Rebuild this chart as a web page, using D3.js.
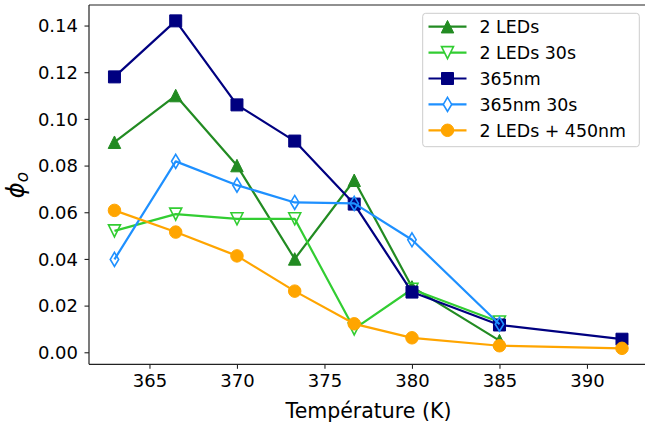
<!DOCTYPE html>
<html>
<head>
<meta charset="utf-8">
<script src="https://cdn.jsdelivr.net/npm/d3@7"></script>
<style>
  html, body { margin: 0; padding: 0; background: #fff; }
  svg { display: block; font-family: "DejaVu Sans", sans-serif; }
</style>
</head>
<body>
<svg id="chart" width="645" height="425"></svg>
<script>
// ---- data ----
const temps = [363, 366.5, 370, 373.3, 376.7, 380, 385, 392];
const leds2 = [0.090, 0.110, 0.080, 0.040, 0.0737, 0.028, 0.005];
const leds2_30s = [0.052, 0.0592, 0.0572, 0.0572, 0.010, 0.027, 0.013];
const nm365 = [0.118, 0.142, 0.106, 0.0905, 0.0635, 0.0258, 0.0117, 0.0056];
const nm365_30s = [0.0398, 0.0818, 0.0716, 0.0642, 0.0638, 0.0482, 0.012];
const leds450 = [0.0608, 0.0515, 0.0413, 0.0262, 0.0122, 0.0062, 0.0028, 0.0017];
const xTicks = [365, 370, 375, 380, 385, 390];
const yTicks = [0.00, 0.02, 0.04, 0.06, 0.08, 0.10, 0.12, 0.14];
const seriesNames = ["2 LEDs", "2 LEDs 30s", "365nm", "365nm 30s", "2 LEDs + 450nm"];
const seriesValues = [leds2, leds2_30s, nm365, nm365_30s, leds450];
const seriesColors = ["#228B22", "#32CD32", "#000080", "#1E90FF", "#FFA500"];
const seriesMarkers = ["triUp", "triDown", "square", "diamond", "circle"];
const seriesFilled = [true, false, true, false, true];

// ---- layout ----
const svg = d3.select("#chart");
const L = 89, T = 5, B = 364.3, R = 649.1;
const x = d3.scaleLinear().domain([361.545, 393.55]).range([L, R]);
const y = d3.scaleLinear().domain([-0.00515, 0.1488]).range([B, T]);

const plot = svg.append("g");

// markers
function markerPath(type, s) {
  const h = s / 2;
  switch (type) {
    case "triUp": return `M0,${-h}L${h},${h}L${-h},${h}Z`;
    case "triDown": return `M0,${h}L${h},${-h}L${-h},${-h}Z`;
    case "square": return `M${-h},${-h}H${h}V${h}H${-h}Z`;
    case "diamond": return `M0,${-h}L${h*0.6},0L0,${h}L${-h*0.6},0Z`;
    case "circle": return `M${h},0A${h},${h} 0 1,1 ${-h},0A${h},${h} 0 1,1 ${h},0Z`;
  }
}
const mSize = { triUp: 12.5, triDown: 12, square: 12, diamond: 14, circle: 12.5 };

seriesValues.forEach((vals, i) => {
  const pts = vals.map((v, j) => [temps[j], v]);
  const g = plot.append("g");
  g.append("path")
    .attr("d", d3.line().x(d => x(d[0])).y(d => y(d[1]))(pts))
    .attr("fill", "none")
    .attr("stroke", seriesColors[i])
    .attr("stroke-width", 2.2)
    .attr("stroke-linejoin", "round");
  g.selectAll("path.m").data(pts).enter().append("path")
    .attr("class", "m")
    .attr("transform", d => `translate(${x(d[0])},${y(d[1])})`)
    .attr("d", markerPath(seriesMarkers[i], mSize[seriesMarkers[i]]))
    .attr("fill", seriesFilled[i] ? seriesColors[i] : "none")
    .attr("stroke", seriesColors[i])
    .attr("stroke-width", seriesFilled[i] ? 1 : 1.6);
});

// axes
const xAxis = d3.axisBottom(x).tickValues(xTicks).tickSize(4.5).tickPadding(6).tickFormat(d3.format("d"));
const yAxis = d3.axisLeft(y).tickValues(yTicks).tickSize(4.5).tickPadding(6).tickFormat(d3.format(".2f"));
const gx = svg.append("g").attr("transform", `translate(0,${B})`).call(xAxis);
const gy = svg.append("g").attr("transform", `translate(${L},0)`).call(yAxis);
[gx, gy].forEach(g => {
  g.select(".domain").remove();
  g.selectAll(".tick line").attr("stroke", "#222").attr("stroke-width", 1.1);
  g.selectAll(".tick text").attr("fill", "#000").style("font-size", "18px").style("font-family", "DejaVu Sans");
});
gx.selectAll(".tick text").attr("dy", "0.71em").attr("y", 10);
gy.selectAll(".tick text").attr("dy", "0.35em").attr("x", -11);

// spines
svg.append("line").attr("x1", L).attr("x2", L).attr("y1", T).attr("y2", B).attr("stroke", "#222").attr("stroke-width", 1.2);
svg.append("line").attr("x1", L).attr("x2", R).attr("y1", B).attr("y2", B).attr("stroke", "#222").attr("stroke-width", 1.2);
svg.append("line").attr("x1", L).attr("x2", R).attr("y1", T).attr("y2", T).attr("stroke", "#222").attr("stroke-width", 1.2);

// axis labels
svg.append("text").attr("x", 368.5).attr("y", 417.5).attr("text-anchor", "middle")
  .style("font-size", "20.5px").attr("fill", "#000").text("Température (K)");
const yl = svg.append("text").attr("transform", "translate(24,185) rotate(-90)").attr("text-anchor", "middle")
  .attr("fill", "#000");
yl.append("tspan").style("font-size", "24px").style("font-style", "italic").text("ϕ");
yl.append("tspan").style("font-size", "17px").style("font-style", "italic").attr("dy", "4").text("o");

// legend
const lg = svg.append("g");
lg.append("rect").attr("x", 422.7).attr("y", 13.3).attr("width", 216.6).attr("height", 133.4)
  .attr("rx", 3).attr("fill", "#fff").attr("fill-opacity", 0.8).attr("stroke", "#cccccc").attr("stroke-width", 1);
seriesNames.forEach((name, i) => {
  const cy = 26.7 + i * 25.9;
  lg.append("line").attr("x1", 428.5).attr("x2", 466.5).attr("y1", cy).attr("y2", cy)
    .attr("stroke", seriesColors[i]).attr("stroke-width", 2.2);
  lg.append("path").attr("transform", `translate(447.5,${cy})`)
    .attr("d", markerPath(seriesMarkers[i], mSize[seriesMarkers[i]]))
    .attr("fill", seriesFilled[i] ? seriesColors[i] : "#fff")
    .attr("stroke", seriesColors[i]).attr("stroke-width", seriesFilled[i] ? 1 : 1.6);
  lg.append("text").attr("x", 479.5).attr("y", cy).attr("dy", "0.36em")
    .style("font-size", "17.4px").attr("fill", "#000").text(name);
});
</script>
</body>
</html>
